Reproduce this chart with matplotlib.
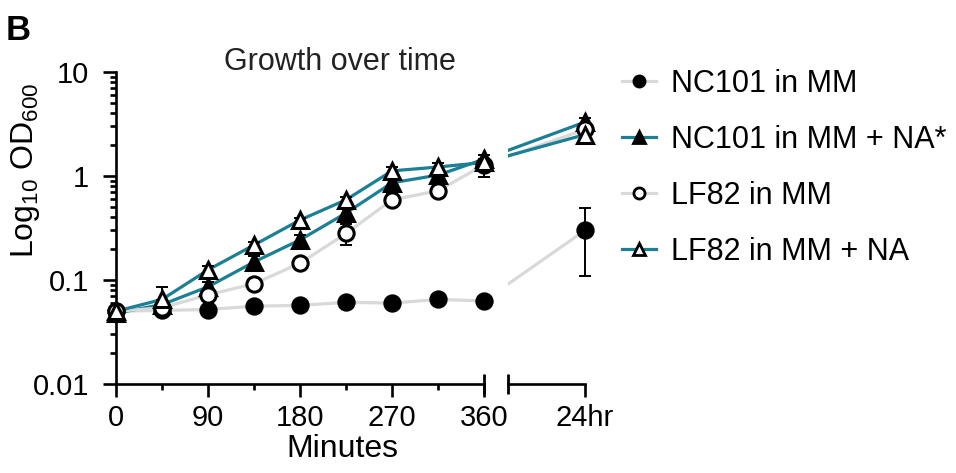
import numpy as np
import matplotlib.pyplot as plt
from matplotlib.lines import Line2D
from matplotlib.ticker import LogLocator, NullFormatter, NullLocator

plt.rcParams['font.family'] = ['Liberation Sans', 'DejaVu Sans']
plt.rcParams['mathtext.default'] = 'regular'

# time points (minutes) + the 24 hr sample
minutes = [0, 45, 90, 135, 180, 225, 270, 315, 360]
x_ticks = [0, 90, 180, 270, 360]
labels = ['NC101 in MM', 'NC101 in MM + NA*', 'LF82 in MM', 'LF82 in MM + NA']

# OD600
nc_mm = [0.050, 0.051, 0.052, 0.056, 0.057, 0.061, 0.060, 0.065, 0.063]
nc_na = [0.048, 0.058, 0.086, 0.149, 0.243, 0.44, 0.86, 1.02, 1.45]
lf_mm = [0.050, 0.054, 0.072, 0.092, 0.145, 0.28, 0.59, 0.72, 1.28]
lf_na = [0.050, 0.065, 0.125, 0.217, 0.377, 0.59, 1.12, 1.22, 1.35]
day_vals = [0.30, 3.3, 2.8, 2.5]

# standard deviations
nc_mm_err = [0.002, 0.002, 0.002, 0.002, 0.002, 0.002, 0.002, 0.002, 0.002]
nc_na_err = [0.002, 0.006, 0.01, 0.022, 0.03, 0.05, 0.1, 0.1, 0.15]
lf_mm_err = [0.002, 0.003, 0.008, 0.006, 0.015, 0.065, 0.08, 0.05, 0.3]
lf_na_err = [0.002, 0.02, 0.01, 0.015, 0.02, 0.04, 0.1, 0.1, 0.1]
day_err = [0.19, 0.3, 0.25, 0.2]

gray = '#d9d9d9'
teal = '#1b7f95'
styles = [
    dict(color=gray, marker='o', mfc='k'),
    dict(color=teal, marker='^', mfc='k'),
    dict(color=gray, marker='o', mfc='white'),
    dict(color=teal, marker='^', mfc='white'),
]
series = [nc_mm, nc_na, lf_mm, lf_na]
errs = [nc_mm_err, nc_na_err, lf_mm_err, lf_na_err]

W, H = 956, 473
fig = plt.figure(figsize=(W / 100, H / 100), dpi=100)
ax = fig.add_axes([116 / W, 1 - 384 / H, 368 / W, 312 / H])
ax2 = fig.add_axes([508 / W, 1 - 384 / H, 77 / W, 312 / H])

# virtual x position of 24 hr so the line keeps its slope across the break
px_per_min = 368 / 360
x_day = 360 + 101 / px_per_min
x_right0 = 360 + 24 / px_per_min

for i in range(4):
    xs = minutes + [x_day]
    ys = series[i] + [day_vals[i]]
    st = styles[i]
    for a in (ax, ax2):
        a.plot(xs, ys, color=st['color'], lw=2.3, zorder=2, solid_capstyle='butt')
for i in range(4):
    st = styles[i]
    ax.errorbar(minutes, series[i], yerr=errs[i], fmt='none', ecolor='k',
                elinewidth=1.4, capsize=4, capthick=1.4, zorder=3, clip_on=False)
    ax.plot(minutes, series[i], ls='none', marker=st['marker'], ms=11,
            mfc=st['mfc'], mec='k', mew=2.2, zorder=4 + i, clip_on=False)
    ax2.errorbar([x_day], [day_vals[i]], yerr=[day_err[i]], fmt='none', ecolor='k',
                 elinewidth=1.4, capsize=4, capthick=1.4, zorder=3, clip_on=False)
    ax2.plot([x_day], [day_vals[i]], ls='none', marker=st['marker'], ms=11,
             mfc=st['mfc'], mec='k', mew=2.2, zorder=4 + i, clip_on=False)

for a in (ax, ax2):
    a.set_yscale('log')
    a.set_ylim(0.01, 10)
    a.spines['top'].set_visible(False)
    a.spines['right'].set_visible(False)
    a.spines['bottom'].set_linewidth(1.9)
    a.spines['left'].set_linewidth(1.9)
    a.tick_params(which='major', length=9.5, width=1.9, labelsize=21, pad=5)
    a.tick_params(which='minor', length=4.5, width=1.9)

ax.set_xlim(0, 360)
ax.set_xticks(x_ticks)
ax.set_xticks([45, 135, 225, 315], minor=True)
ax.set_yticks([0.01, 0.1, 1, 10])
ax.set_yticklabels(['0.01', '0.1', '1', '10'])
ax.yaxis.set_minor_locator(LogLocator(base=10, subs=np.arange(2, 10)))
ax.yaxis.set_minor_formatter(NullFormatter())
ax.tick_params(axis='y', which='major', pad=10)

ax2.set_xlim(x_right0, x_day)
ax2.spines['left'].set_visible(False)
ax2.yaxis.set_major_locator(NullLocator())
ax2.yaxis.set_minor_locator(NullLocator())
ax2.tick_params(axis='y', which='both', left=False, labelleft=False)
ax2.set_xticks([x_day])
ax2.set_xticklabels(['24hr'])

# caps marking the axis break
ax.plot([1], [0], marker='|', ms=15, mew=2, color='k', transform=ax.transAxes, clip_on=False, zorder=10)
ax2.plot([0], [0], marker='|', ms=15, mew=2, color='k', transform=ax2.transAxes, clip_on=False, zorder=10)

fig.text(340 / W, 1 - 70 / H, 'Growth over time', ha='center', va='baseline', fontsize=22, color='#222222')
fig.text(342 / W, 1 - 457 / H, 'Minutes', ha='center', va='baseline', fontsize=23)
fig.text(26 / W, 1 - 170 / H, 'Log$_{10}$ OD$_{600}$', ha='center', va='center', rotation=90, fontsize=23)
fig.text(6 / W, 1 - 30 / H, 'B', ha='left', va='center', fontsize=25, fontweight='bold')

handles = [Line2D([], [], color=styles[i]['color'], lw=2.3, marker=styles[i]['marker'], ms=8,
                  mfc=styles[i]['mfc'], mec='k', mew=2) for i in range(4)]
fig.legend(handles, labels, loc='upper left', bbox_to_anchor=(622 / W, 1 - 69 / H), frameon=False,
           fontsize=22, handlelength=1.1, handletextpad=0.5, labelspacing=0.85,
           borderaxespad=0, borderpad=0)

fig.savefig('out.png', dpi=100)
